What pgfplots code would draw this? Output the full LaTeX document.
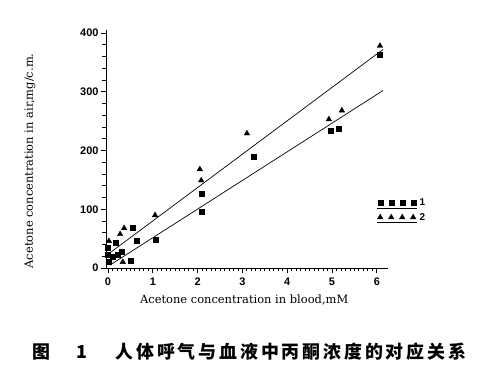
\documentclass[border=0pt]{standalone}
\usepackage{fontspec}
\setmainfont{DejaVu Serif}
\newfontfamily\ticksf{Liberation Sans}
\newfontfamily\cjk[LetterSpace=16]{Noto Sans CJK SC}
\usepackage{pgfplots}
\pgfplotsset{compat=1.18}
\pgfplotsset{
  marklegend/.style={
    legend image code/.code={
      \draw[##1] plot coordinates {(0bp,0bp) (11bp,0bp) (22bp,0bp) (33bp,0bp)};
      \draw[black, line width=0.6pt] (-3bp,-5bp) -- (37bp,-5bp);
    }
  }
}
\begin{document}
\begin{tikzpicture}
\path[use as bounding box] (0bp,0bp) rectangle (502bp,385bp);
\begin{axis}[
  at={(106bp,117bp)}, anchor=south west,
  scale only axis, width=282bp, height=238bp,
  xmin=-0.045, xmax=6.25, ymin=0, ymax=405,
  axis lines=left,
  axis line style={black, line width=0.8pt, -},
  xtick={0,1,...,6}, ytick={0,100,...,400},
  minor x tick num=9, minor y tick num=4,
  xtick align=outside, ytick align=outside,
  major tick length=5bp, minor tick length=3.5bp,
  tick style={black, line width=0.8pt},
  /pgf/number format/assume math mode=true,
  tick label style={font=\ticksf\bfseries\fontsize{11}{12}\selectfont},
  xticklabel style={yshift=-1bp},
  yticklabel style={xshift=1bp},
  xlabel={Acetone concentration in blood,mM},
  ylabel={Acetone concentration in air,mg/c.m.},
  label style={font=\fontsize{11.5}{13}\selectfont},
  xlabel style={at={(axis description cs:0.49,-0.135)}, anchor=center},
  ylabel style={at={(axis description cs:-0.27,0.45)}, anchor=center, rotate=0},
  legend style={draw=none, fill=none, at={(rel axis cs:0.96,0.30)}, anchor=north west,
    font=\ticksf\bfseries\fontsize{10}{11}\selectfont, row sep=2bp, inner sep=0pt},
  legend cell align=left,
]
\addplot[only marks, mark=square*, mark size=2.5bp, black, marklegend] coordinates {
  (0.00,33.9) (0.00,22.0) (0.02,10.2) (0.11,18.6) (0.18,42.4) (0.22,22.0)
  (0.31,27.1) (0.51,11.9) (0.54,67.8) (0.65,45.8) (1.07,47.5) (2.10,127)
  (2.10,96.6) (3.26,190) (4.96,234) (5.16,237) (6.07,363)
};
\addlegendentry{1}
\addplot[only marks, mark=triangle*, mark size=3.2bp, black, marklegend] coordinates {
  (0.02,45.8) (0.27,57.6) (0.36,67.8) (0.33,10.2) (1.05,89.8) (2.05,168)
  (2.08,149) (3.10,229) (4.93,253) (5.22,268) (6.07,378)
};
\addlegendentry{2}
\addplot[black, line width=0.7pt, forget plot] coordinates {(0.045,25.9) (6.14,372)};
\addplot[black, line width=0.7pt, forget plot] coordinates {(0.045,5) (6.14,302)};
\end{axis}
\node[anchor=west, font=\cjk\bfseries\fontsize{18}{20}\selectfont] at (29bp,33bp) {图\hspace{26bp}1};
\node[anchor=west, font=\cjk\bfseries\fontsize{18}{20}\selectfont] at (112bp,33bp) {人体呼气与血液中丙酮浓度的对应关系};
\end{tikzpicture}
\end{document}
